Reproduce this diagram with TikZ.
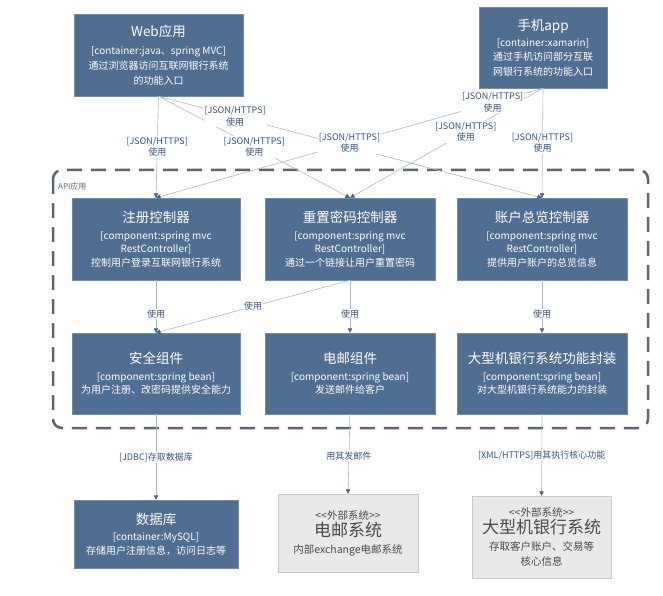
\documentclass[tikz,border=0pt]{standalone}
\usepackage{fontspec}
\setmainfont{Noto Sans CJK SC}
\usetikzlibrary{arrows.meta}
\definecolor{boxcol}{RGB}{80,110,145}
\definecolor{extcol}{RGB}{233,233,233}
\definecolor{extline}{RGB}{200,200,200}
\definecolor{exttext}{RGB}{75,75,75}
\definecolor{labcol}{RGB}{55,85,120}
\definecolor{linecol}{RGB}{178,184,192}
\definecolor{tipcol}{RGB}{70,100,135}
\definecolor{dashcol}{RGB}{92,102,114}

\begin{document}
\begin{tikzpicture}[x=1pt,y=-1pt]
  \tikzstyle{compbox}=[fill=boxcol,draw=boxcol!80!white,text=white,align=center,font=\fontsize{10}{13.5}\selectfont]
  \tikzstyle{extbox}=[fill=extcol,draw=extline,text=exttext,align=center,font=\fontsize{10.5}{15}\selectfont]
  \tikzstyle{uses}=[draw=linecol,line width=0.6pt,-{Triangle[width=4.5pt,length=4.5pt,color=tipcol]}]
  \tikzstyle{lab}=[fill=white,text=labcol,align=center,inner sep=1pt,font=\fontsize{9}{11.5}\selectfont]

  \def\ttl{\fontsize{13.5}{16}\selectfont}
  \def\big{\fontsize{17}{20}\selectfont}

  \useasboundingbox (0,0) rectangle (663,596);

  % API CONTAINER
  \draw[dashcol,line width=2.5pt,dash pattern=on 15pt off 9pt,rounded corners=9pt]
  (53,170) rectangle (648,428);
  \node[anchor=west,text=dashcol,inner sep=0pt,font=\fontsize{8}{10}\selectfont] (api) at (58,186) {API应用};

  % CONTAINERS
  \node[compbox,minimum width=169,minimum height=82,font=\fontsize{10}{15}\selectfont] (web) at (158.5,55)
  {{\ttl Web应用}\\[3pt][container:java、spring MVC]\\通过浏览器访问互联网银行系统\\的功能入口};
  \node[compbox,minimum width=128,minimum height=81,font=\fontsize{10}{14.5}\selectfont] (mob) at (543,47.5)
  {{\ttl 手机app}\\[1pt][container:xamarin]\\通过手机访问部分互联\\网银行系统的功能入口};

  % CONTROLLERS
  \node[compbox,minimum width=168,minimum height=82] (reg) at (156,239)
  {{\ttl 注册控制器}\\[3pt][component:spring mvc\\RestController]\\控制用户登录互联网银行系统};
  \node[compbox,minimum width=170,minimum height=82] (reset) at (350,239)
  {{\ttl 重置密码控制器}\\[3pt][component:spring mvc\\RestController]\\通过一个链接让用户重置密码};
  \node[compbox,minimum width=170,minimum height=82] (acct) at (542,239)
  {{\ttl 账户总览控制器}\\[3pt][component:spring mvc\\RestController]\\提供用户账户的总览信息};

  % COMPONENTS
  \node[compbox,minimum width=168,minimum height=81] (sec) at (156,373.5)
  {{\ttl 安全组件}\\[3pt][component:spring bean]\\为用户注册、改密码提供安全能力};
  \node[compbox,minimum width=170,minimum height=81] (mail) at (350,373.5)
  {{\ttl 电邮组件}\\[3pt][component:spring bean]\\发送邮件给客户};
  \node[compbox,minimum width=170,minimum height=81] (mfw) at (542,373.5)
  {{\ttl 大型机银行系统功能封装}\\[3pt][component:spring bean]\\对大型机银行系统能力的封装};

  % BOTTOM
  \node[compbox,minimum width=164,minimum height=68] (db) at (156,534)
  {{\ttl 数据库}\\[3pt][container:MySQL]\\存储用户注册信息，访问日志等};
  \node[extbox,minimum width=140,minimum height=78] (esys) at (348,533)
  {<{}<外部系统>{}>\\[1pt]{\big 电邮系统}\\[2pt]内部exchange电邮系统};
  \node[extbox,minimum width=139,minimum height=82] (bank) at (541.5,537)
  {<{}<外部系统>{}>\\[1pt]{\big 大型机银行系统}\\[2pt]存取客户账户、交易等\\核心信息};

  % CALLS FROM WEB AND MOBILE
  \draw[uses] (web.south) -- node[lab,pos=0.5]{[JSON/HTTPS]\\使用} (reg.north);
  \draw[uses] (web.south) -- node[lab,pos=0.5]{[JSON/HTTPS]\\使用} (reset.north);
  \draw[uses] (web.south) -- node[lab,pos=0.2]{[JSON/HTTPS]\\使用} (acct.north);
  \draw[uses] (mob.south) -- node[lab,pos=0.5]{[JSON/HTTPS]\\使用} (acct.north);
  \draw[uses] (mob.south) -- node[lab,pos=0.4]{[JSON/HTTPS]\\使用} (reset.north);
  \draw[uses] (mob.south) -- node[lab,pos=0.13]{[JSON/HTTPS]\\使用}
  node[lab,pos=0.5]{[JSON/HTTPS]\\使用} (reg.north);

  % INSIDE API
  \draw[uses] (reg.south) -- node[lab,pos=0.64]{使用} (sec.north);
  \draw[uses] (reset.south) -- node[lab,pos=0.5]{使用} (sec.north);
  \draw[uses] (reset.south) -- node[lab,pos=0.64]{使用} (mail.north);
  \draw[uses] (acct.south) -- node[lab,pos=0.64]{使用} (mfw.north);

  % OUT OF API
  \draw[uses] (sec.south) -- node[lab,pos=0.51]{[JDBC]存取数据库} (db.north);
  \draw[uses] (mail.south) -- node[lab,pos=0.52]{用其发邮件} (esys.north);
  \draw[uses] (mfw.south) -- node[lab,pos=0.51]{[XML/HTTPS]用其执行核心功能} (bank.north);
\end{tikzpicture}
\end{document}
